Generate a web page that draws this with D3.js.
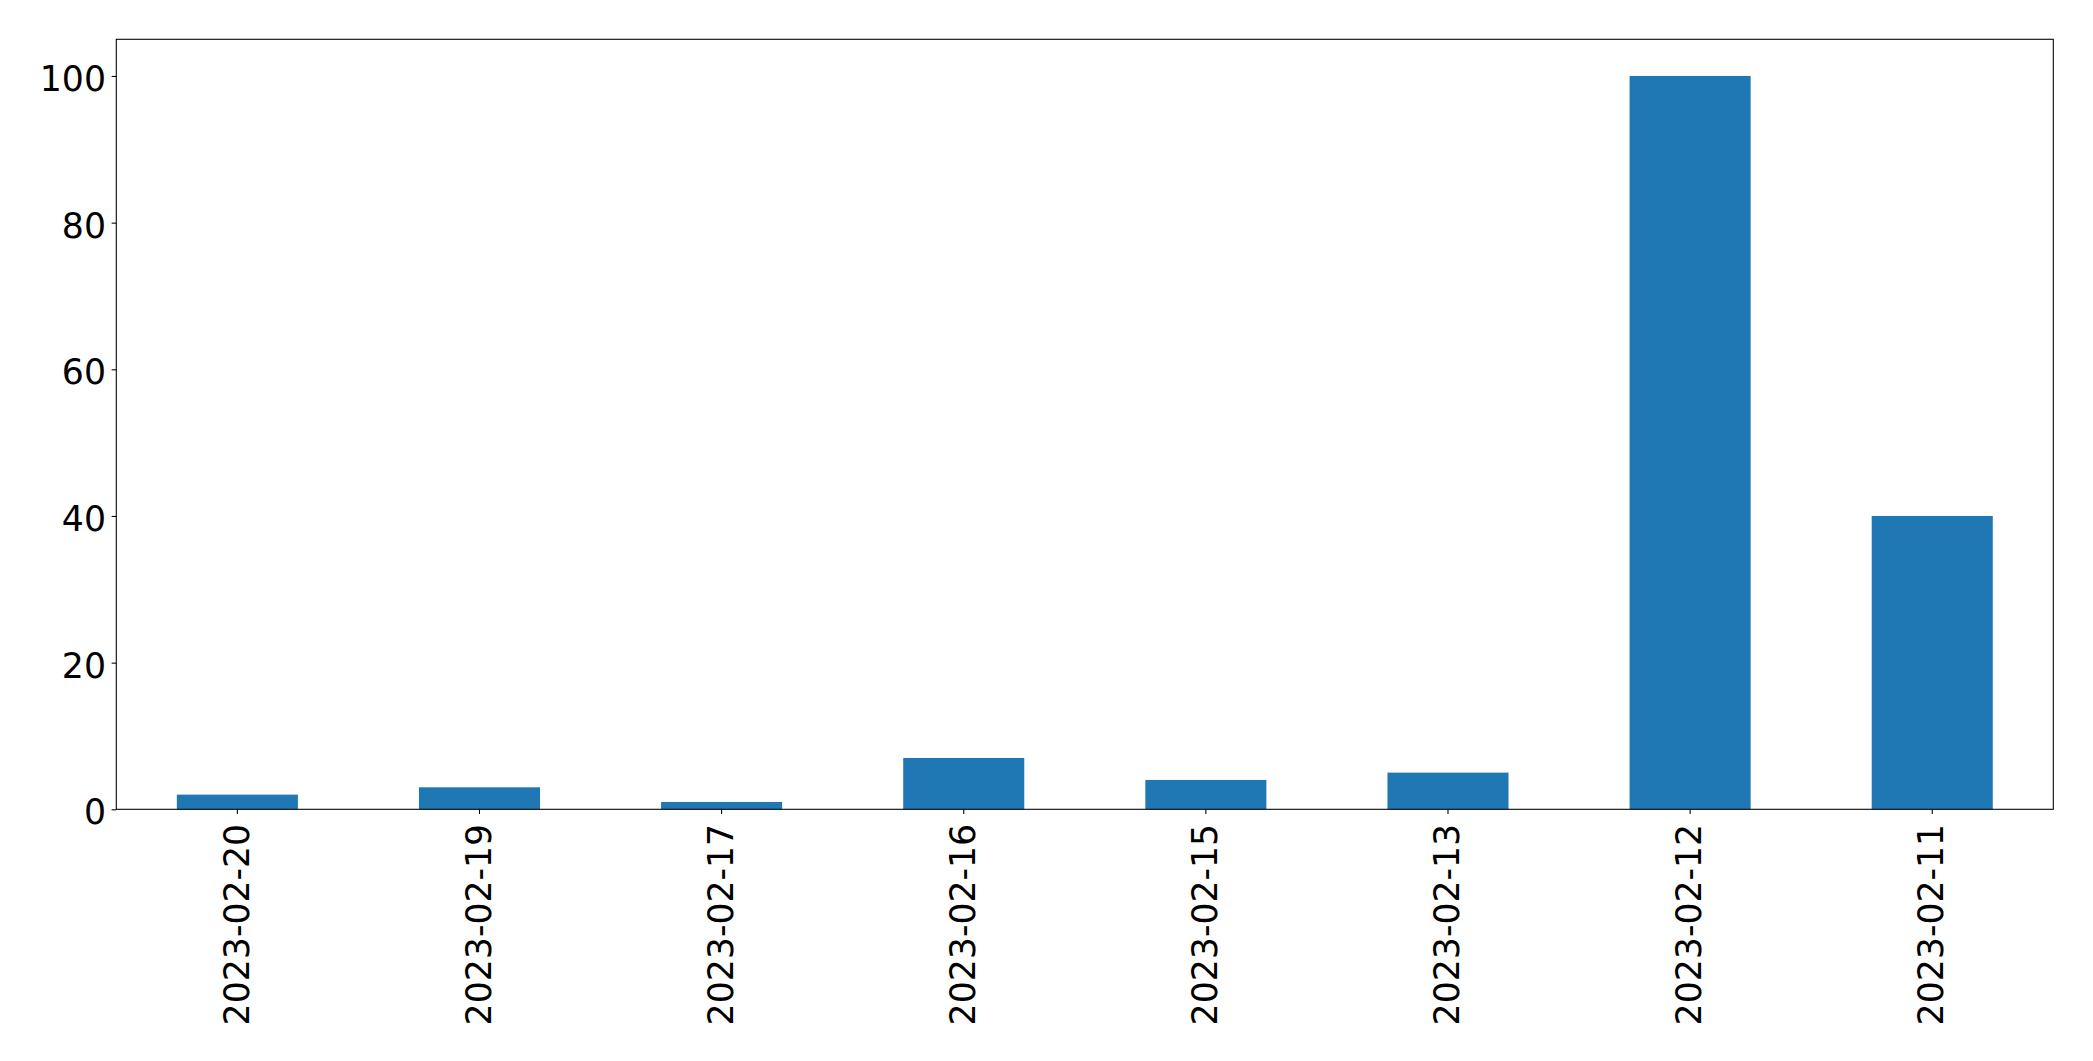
<!DOCTYPE html>
<html>
<head>
<meta charset="utf-8">
<script src="https://cdn.jsdelivr.net/npm/d3@7"></script>
<style>
  html, body { margin: 0; padding: 0; background: #fff; }
  svg { display: block; }
</style>
</head>
<body>
<script>
const categories = ["2023-02-20", "2023-02-19", "2023-02-17", "2023-02-16", "2023-02-15", "2023-02-13", "2023-02-12", "2023-02-11"];
const values = [2, 3, 1, 7, 4, 5, 100, 40];
const yTicks = [0, 20, 40, 60, 80, 100];

const W = 2093, H = 1061;
const plotLeft = 116.3, plotRight = 2053.3, plotTop = 39.3, plotBottom = 809.3;
const fontSize = 34.7;

const svg = d3.select("body").append("svg").attr("width", W).attr("height", H);

const x = d3.scaleBand().domain(categories).range([plotLeft, plotRight]).paddingInner(0.5).paddingOuter(0.25);
const y = d3.scaleLinear().domain([0, 105]).range([plotBottom, plotTop]);

// bars
svg.append("g").selectAll("rect").data(categories).join("rect")
  .attr("x", d => x(d))
  .attr("width", x.bandwidth())
  .attr("y", (d, i) => y(values[i]))
  .attr("height", (d, i) => y(0) - y(values[i]))
  .attr("fill", "#1f77b4");

// y axis
const yAxis = d3.axisLeft(y).tickValues(yTicks).tickSize(4.67).tickPadding(4.67).tickFormat(d3.format("d"));
const gy = svg.append("g").attr("transform", `translate(${plotLeft},0)`).call(yAxis);
gy.select(".domain").remove();
gy.selectAll(".tick line").attr("stroke", "#000").attr("stroke-width", 1.07);
gy.selectAll(".tick text")
  .attr("font-family", "DejaVu Sans")
  .attr("font-size", fontSize)
  .attr("fill", "#000")
  .attr("x", -10.3)
  .attr("dy", null)
  .attr("y", 14.5);

// x axis
const xAxis = d3.axisBottom(x).tickSize(4.67).tickPadding(0);
const gx = svg.append("g").attr("transform", `translate(0,${plotBottom})`).call(xAxis);
gx.select(".domain").remove();
gx.selectAll(".tick line").attr("stroke", "#000").attr("stroke-width", 1.07);
gx.selectAll(".tick text")
  .attr("font-family", "DejaVu Sans")
  .attr("font-size", fontSize)
  .attr("fill", "#000")
  .attr("y", null).attr("dy", null)
  .attr("text-anchor", "end")
  .attr("transform", "translate(11.2,14.5) rotate(-90)");

// frame
svg.append("rect")
  .attr("x", plotLeft).attr("y", plotTop)
  .attr("width", plotRight - plotLeft).attr("height", plotBottom - plotTop)
  .attr("fill", "none").attr("stroke", "#000").attr("stroke-width", 1.07);
</script>
</body>
</html>
